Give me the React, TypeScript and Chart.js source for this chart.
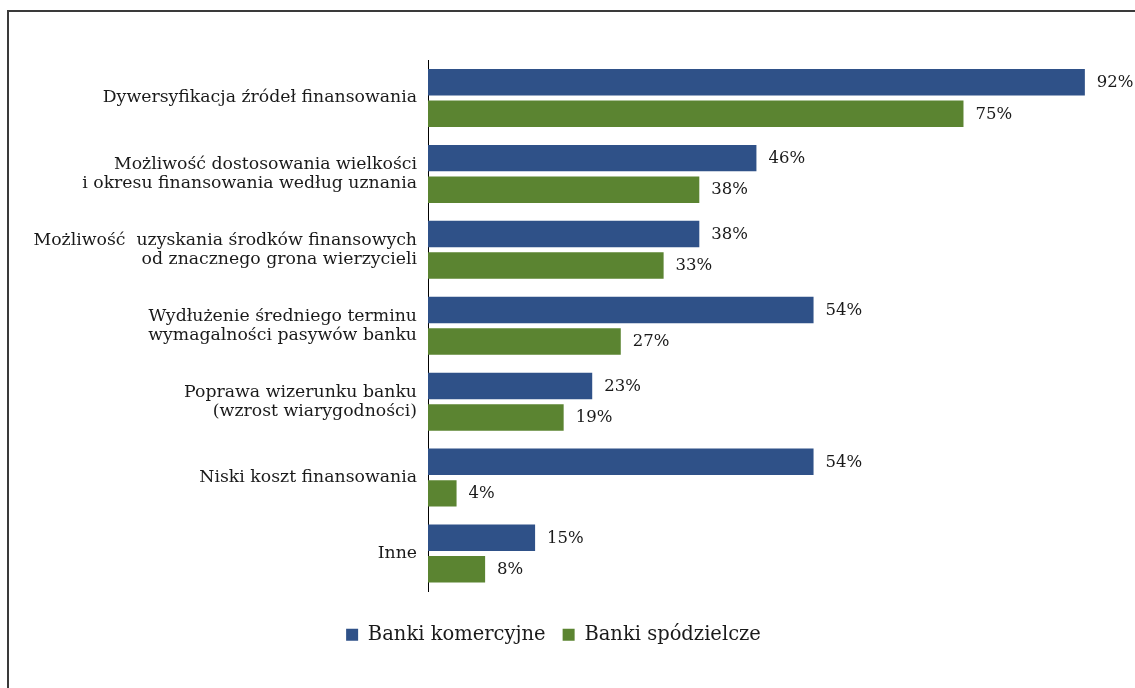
import React, { useEffect, useRef } from "react";
import { Chart, registerables } from "chart.js";

Chart.register(...registerables);

const categories: (string | string[])[] = [
  "Dywersyfikacja źródeł finansowania",
  ["Możliwość dostosowania wielkości", "i okresu finansowania według uznania"],
  ["Możliwość  uzyskania środków finansowych", "od znacznego grona wierzycieli"],
  ["Wydłużenie średniego terminu", "wymagalności pasywów banku"],
  ["Poprawa wizerunku banku", "(wzrost wiarygodności)"],
  "Niski koszt finansowania",
  "Inne",
];
const seriesNames = ["Banki komercyjne", "Banki spódzielcze"];
const komercyjne = [92, 46, 38, 54, 23, 54, 15];
const spoldzielcze = [75, 38, 33, 27, 19, 4, 8];

const BLUE = "#2f5188";
const GREEN = "#5b8431";
const FONT = "'DejaVu Serif', serif";

export default function App() {
  const ref = useRef<HTMLCanvasElement | null>(null);
  useEffect(() => {
    document.body.style.margin = "0";
    const frame = {
      id: "frame",
      beforeDraw(chart: any) {
        const ctx = chart.ctx;
        ctx.save();
        ctx.strokeStyle = "#3a3a3a";
        ctx.lineWidth = 2;
        ctx.beginPath();
        ctx.moveTo(8, 700);
        ctx.lineTo(8, 11);
        ctx.lineTo(1140, 11);
        ctx.stroke();
        ctx.restore();
      },
    };
    const valueLabels = {
      id: "valueLabels",
      afterDatasetsDraw(chart: any) {
        const ctx = chart.ctx;
        ctx.save();
        ctx.font = `16.5px ${FONT}`;
        ctx.fillStyle = "#1a1a1a";
        ctx.textAlign = "left";
        ctx.textBaseline = "middle";
        chart.data.datasets.forEach((ds: any, di: number) => {
          const meta = chart.getDatasetMeta(di);
          meta.data.forEach((bar: any, i: number) => {
            ctx.fillText(`${ds.data[i]}%`, bar.x + 12, bar.y + 0.5);
          });
        });
        ctx.restore();
      },
    };
    const chart = new Chart(ref.current!, {
      type: "bar",
      data: {
        labels: categories,
        datasets: [
          { label: seriesNames[0], data: komercyjne, backgroundColor: BLUE },
          { label: seriesNames[1], data: spoldzielcze, backgroundColor: GREEN },
        ],
      },
      options: {
        indexAxis: "y",
        responsive: false,
        animation: false,
        categoryPercentage: 0.83,
        barPercentage: 0.84,
        layout: { padding: { top: 60, left: 10, right: 38, bottom: 33.5 } },
        scales: {
          x: {
            display: true,
            min: 0,
            max: 93.7,
            ticks: { display: false },
            grid: { display: false },
            border: { display: false },
            afterFit: (s: any) => {
              s.height = 16.5;
            },
          },
          y: {
            grid: { display: false },
            border: { display: true, color: "#000", width: 1 },
            ticks: {
              color: "#1a1a1a",
              font: { family: FONT, size: 17.3, lineHeight: 1.1 },
              padding: 3,
            },
            afterFit: (s: any) => {
              s.width = 418;
            },
          },
        },
        plugins: {
          legend: {
            position: "bottom",
            labels: {
              color: "#1a1a1a",
              font: { family: FONT, size: 19.5 },
              boxWidth: 12,
              boxHeight: 12,
              padding: 17,
            },
          },
          tooltip: { enabled: false },
        },
      },
      plugins: [frame, valueLabels],
    });
    return () => chart.destroy();
  }, []);
  return (
    <canvas
      ref={ref}
      width={1135}
      height={688}
      style={{ position: "absolute", left: 0, top: 0 }}
    />
  );
}
